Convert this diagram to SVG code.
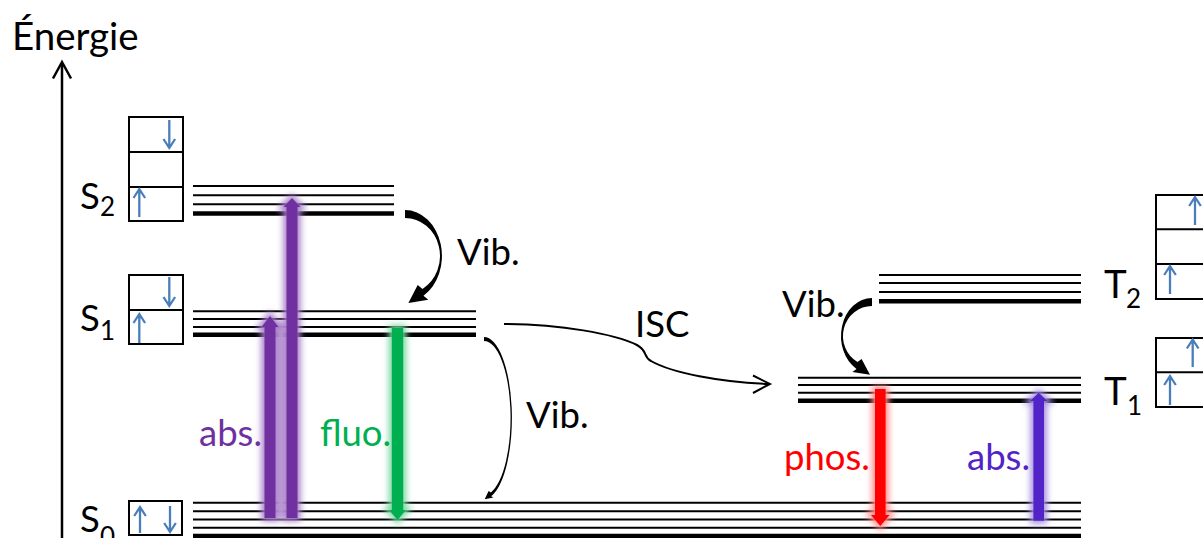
<svg xmlns="http://www.w3.org/2000/svg" width="1203" height="538" viewBox="0 0 1203 538">
  <style>
    .t { font-family: Lato, "Liberation Sans", sans-serif; fill: #000; }
    .big { font-size: 38.5px; }
    .lab { font-size: 36.5px; }
    .sub { font-size: 26px; }
    .lvl { stroke: #000; stroke-width: 2; fill: none; }
    .lvl0 { stroke: #000; stroke-width: 4.5; fill: none; }
    .box { stroke: #000; stroke-width: 2; fill: #fff; }
    .spin { stroke: #4A7EBB; stroke-width: 2.3; fill: none; }
    .conn { stroke: #000; stroke-width: 2; fill: none; }
    .glow { filter: url(#soft); }
  </style>
  <defs>
    <filter id="soft" x="-50%" y="-10%" width="200%" height="120%">
      <feGaussianBlur stdDeviation="3"/>
    </filter>
  </defs>

  <!-- energy axis -->
  <g id="axis">
    <line x1="62" y1="540" x2="62" y2="63" stroke="#000" stroke-width="2.5"/>
    <path d="M53,78.5 L62,62 L71,78.5" fill="none" stroke="#000" stroke-width="2.5"/>
    <text class="t big" x="12" y="50">Énergie</text>
  </g>

  <!-- singlet S2 -->
  <g id="S2">
    <rect class="box" x="129" y="117" width="54" height="104"/>
    <line class="lvl" x1="129" y1="152" x2="183" y2="152"/>
    <line class="lvl" x1="129" y1="187" x2="183" y2="187"/>
    <path class="spin" d="M169.3,120 V148 M163.5,139 L169.3,148 L175.1,139"/>
    <path class="spin" d="M139.3,217 V189 M133.5,198 L139.3,189 L145.1,198"/>
    <text class="t lab" x="80" y="209">S</text>
    <text class="t sub" x="100" y="216">2</text>
    <line class="lvl" x1="193" y1="186" x2="394" y2="186"/>
    <line class="lvl" x1="193" y1="195.3" x2="394" y2="195.3"/>
    <line class="lvl" x1="193" y1="204.3" x2="394" y2="204.3"/>
    <line class="lvl0" x1="193" y1="213.5" x2="394" y2="213.5"/>
  </g>

  <!-- singlet S1 -->
  <g id="S1">
    <rect class="box" x="129" y="275" width="54" height="69"/>
    <line class="lvl" x1="129" y1="310" x2="183" y2="310"/>
    <path class="spin" d="M169.3,277 V306 M163.5,297 L169.3,306 L175.1,297"/>
    <path class="spin" d="M139.3,343 V314 M133.5,323 L139.3,314 L145.1,323"/>
    <text class="t lab" x="80" y="331">S</text>
    <text class="t sub" x="100" y="340">1</text>
    <line class="lvl" x1="193" y1="311.3" x2="476" y2="311.3"/>
    <line class="lvl" x1="193" y1="319" x2="476" y2="319"/>
    <line class="lvl" x1="193" y1="327" x2="476" y2="327"/>
    <line class="lvl0" x1="193" y1="334.7" x2="476" y2="334.7"/>
  </g>

  <!-- ground state S0 -->
  <g id="S0">
    <rect class="box" x="129" y="501" width="53" height="34"/>
    <path class="spin" d="M140,533 V507 M134.2,516 L140,507 L145.8,516"/>
    <path class="spin" d="M170,506 V532 M164.2,523 L170,532 L175.8,523"/>
    <text class="t lab" x="80" y="532">S</text>
    <text class="t sub" x="100" y="546">0</text>
    <line class="lvl" x1="193" y1="502.7" x2="1081" y2="502.7"/>
    <line class="lvl" x1="193" y1="511.3" x2="1081" y2="511.3"/>
    <line class="lvl" x1="193" y1="519.5" x2="1081" y2="519.5"/>
    <line class="lvl" x1="193" y1="527.7" x2="1081" y2="527.7"/>
    <line class="lvl0" x1="193" y1="536" x2="1081" y2="536"/>
  </g>

  <!-- triplet T2 -->
  <g id="T2">
    <rect class="box" x="1156" y="195" width="70" height="104"/>
    <line class="lvl" x1="1156" y1="229.3" x2="1226" y2="229.3"/>
    <line class="lvl" x1="1156" y1="264" x2="1226" y2="264"/>
    <path class="spin" d="M1195,225 V197 M1189.2,206 L1195,197 L1200.8,206"/>
    <path class="spin" d="M1170,294 V266 M1164.2,275 L1170,266 L1175.8,275"/>
    <text class="t big" x="1104" y="298">T</text>
    <text class="t sub" x="1126" y="308">2</text>
    <line class="lvl" x1="879" y1="275" x2="1081" y2="275"/>
    <line class="lvl" x1="879" y1="283" x2="1081" y2="283"/>
    <line class="lvl" x1="879" y1="292" x2="1081" y2="292"/>
    <line class="lvl0" x1="879" y1="301.3" x2="1081" y2="301.3"/>
  </g>

  <!-- triplet T1 -->
  <g id="T1">
    <rect class="box" x="1156" y="338" width="70" height="69"/>
    <line class="lvl" x1="1156" y1="372.3" x2="1226" y2="372.3"/>
    <path class="spin" d="M1192.7,367 V339.5 M1186.9,348.5 L1192.7,339.5 L1198.5,348.5"/>
    <path class="spin" d="M1170,405 V376 M1164.2,385 L1170,376 L1175.8,385"/>
    <text class="t big" x="1104" y="405">T</text>
    <text class="t sub" x="1127" y="415">1</text>
    <line class="lvl" x1="798" y1="377.7" x2="1081" y2="377.7"/>
    <line class="lvl" x1="798" y1="385" x2="1081" y2="385"/>
    <line class="lvl" x1="798" y1="392.7" x2="1081" y2="392.7"/>
    <line class="lvl0" x1="798" y1="400.7" x2="1081" y2="400.7"/>
  </g>

  <!-- radiative transitions -->
  <g id="radiative">
    <rect x="274" y="322" width="14" height="197" fill="#c5a8dc" class="glow"/>
    <path class="glow" d="M264.5,518 V327 H261.5 L270,316 L278.5,327 H275.5 V518 Z" fill="#a57cc8" stroke="#a57cc8" stroke-width="6"/>
    <path class="glow" d="M286.5,518 V207 H283.5 L292,198 L300.5,207 H297.5 V518 Z" fill="#a57cc8" stroke="#a57cc8" stroke-width="6"/>
    <path d="M264.5,518 V327 H261.5 L270,316 L278.5,327 H275.5 V518 Z" fill="#7030A0"/>
    <path d="M286.5,518 V207 H283.5 L292,198 L300.5,207 H297.5 V518 Z" fill="#7030A0"/>

    <path class="glow" d="M391.8,328 H403.2 V510 H406 L397.5,520 L389,510 H391.8 Z" fill="#7fd8a4" stroke="#7fd8a4" stroke-width="6"/>
    <path d="M391.8,328 H403.2 V510 H406 L397.5,520 L389,510 H391.8 Z" fill="#00B050"/>

    <path class="glow" d="M875,389 H885.6 V515 H889.5 L880.3,526 L871,515 H875 Z" fill="#ff8a8a" stroke="#ff8a8a" stroke-width="6"/>
    <path d="M875,389 H885.6 V515 H889.5 L880.3,526 L871,515 H875 Z" fill="#FF0000"/>

    <path class="glow" d="M1033.4,520.7 V401 H1030 L1038.7,392.7 L1047.4,401 H1044 V520.7 Z" fill="#a590e0" stroke="#a590e0" stroke-width="6"/>
    <path d="M1033.4,520.7 V401 H1030 L1038.7,392.7 L1047.4,401 H1044 V520.7 Z" fill="#5224C8"/>

    <text class="t lab" x="199" y="446" style="fill:#7030A0">abs.</text>
    <text class="t lab" x="320" y="446" style="fill:#00B050">fluo.</text>
    <text class="t lab" x="784" y="470" style="fill:#FF0000">phos.</text>
    <text class="t lab" x="967" y="470" style="fill:#5224C8">abs.</text>
  </g>

  <!-- non-radiative transitions -->
  <g id="connectors">
    <!-- S2 to S1 relaxation -->
    <path d="M405,210 A37,46 0 0 1 423.5,295.8 L428.3,299.7 L408.4,302.9 L417.7,285.1 L422.5,288.9 A35,38 0 0 0 405,218 Z" fill="#000"/>
    <!-- S1 to S0 relaxation -->
    <path d="M484,337 A28,81 0 0 1 491.2,496.2 L493.4,497.5 L484.7,499.2 L488.6,491.1 L490.9,492.4 A26.5,77 0 0 0 484,341 Z" fill="#000"/>
    <!-- intersystem crossing -->
    <path class="conn" d="M504,324 C560,324 615,334 637,345 C648,351 643,357 651,361 C672,373 720,382 768,384"/>
    <path class="conn" d="M753,375.5 L770,384 L753,393"/>
    <!-- T2 to T1 relaxation -->
    <path d="M872,298 A31,38 0 0 0 856.5,368.9 L852.4,372 L870,374.7 L861.6,359 L857.5,362 A29,30 0 0 1 872,306 Z" fill="#000"/>

    <text class="t lab" x="457" y="265">Vib.</text>
    <text class="t lab" x="526" y="428">Vib.</text>
    <text class="t lab" x="635" y="337">ISC</text>
    <text class="t lab" x="782" y="317">Vib.</text>
  </g>
</svg>
